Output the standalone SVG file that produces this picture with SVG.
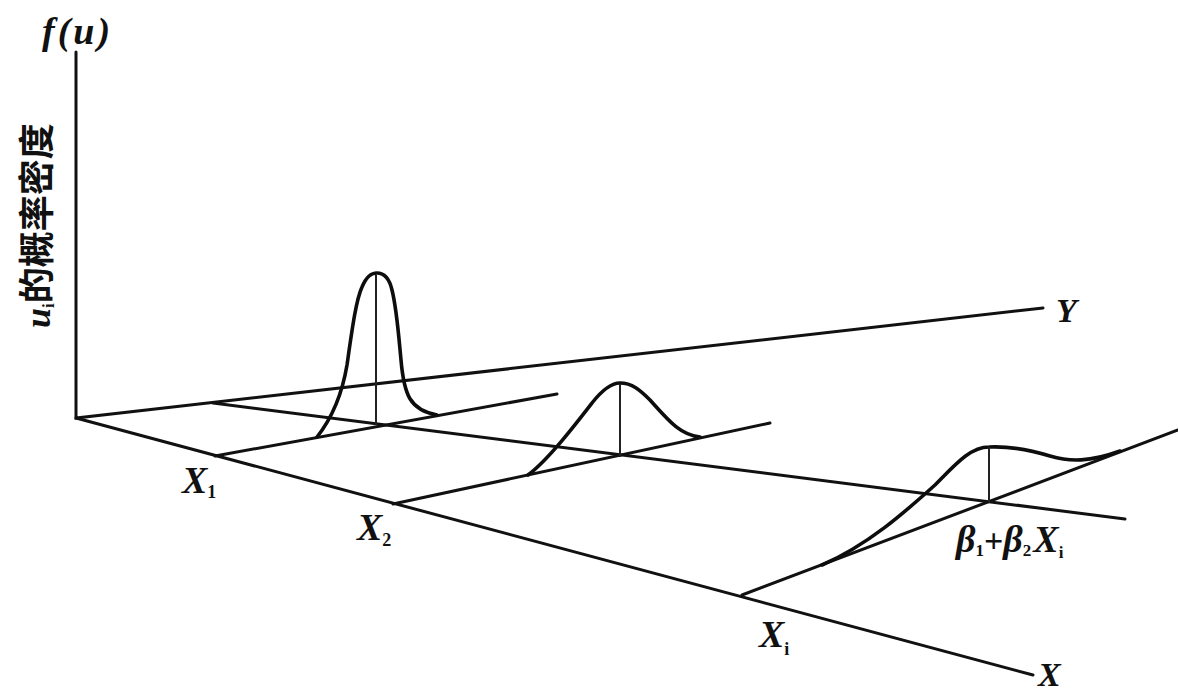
<svg xmlns="http://www.w3.org/2000/svg" width="1178" height="693" viewBox="0 0 1178 693">
<style>
.ax{stroke:#111;stroke-width:3;fill:none;stroke-linecap:round}
.cv{stroke:#0d0d0d;stroke-width:3.6;fill:none;stroke-linecap:round;stroke-linejoin:round}
.vl{stroke:#222;stroke-width:2;fill:none}
.lb{font-family:"Liberation Serif","DejaVu Serif",serif;font-style:italic;font-weight:bold;fill:#111}
.sb{font-family:"Liberation Serif","DejaVu Serif",serif;font-style:normal;font-weight:bold;fill:#111}
.cj{font-family:"Noto Sans CJK SC","Noto Sans CJK TC",sans-serif;font-weight:bold;fill:#111}
</style>
<rect width="1178" height="693" fill="#fff"/>
<g id="axes">
<path class="ax" d="M76,52 L76,418 L1043,308"/>
<path class="ax" d="M76,418 L1033,675"/>
</g>
<g id="connectors">
<path class="ax" d="M215,456 L557,394"/>
<path class="ax" d="M393,504 L770,423"/>
<path class="ax" d="M742,595 L1178,430"/>
<path class="ax" d="M213,403 L1125,519"/>
</g>
<g id="curve1">
<path class="cv" d="M317,437 C332,418 342,395 347,365 C352,330 356,300 362,287 C367,275 372,273 377,273 C383,273 389,277 392,290 C397,310 399,340 401,360 C404,395 410,410 437,415"/>
<path class="vl" d="M376,275 L376,425"/>
</g>
<g id="curve2">
<path class="cv" d="M528,475 C548,460 575,425 592,403 C603,389 612,383 620,383 C632,383 640,390 650,400 C668,420 680,435 700,437"/>
<path class="vl" d="M620,384 L620,457"/>
</g>
<g id="curve3">
<path class="cv" d="M822,565 C868,545 905,512 935,485 C955,465 970,447 989,447 C1010,446 1030,450 1050,456 C1070,462 1090,462 1120,451"/>
<path class="vl" d="M989,447 L989,502"/>
</g>
<g id="labels">
<text class="lb" x="42" y="44" font-size="38" letter-spacing="3">f(u)</text>
<text transform="translate(50,328) rotate(-90)" font-size="36"><tspan class="lb">u</tspan><tspan class="sb" font-size="17" dy="4">i</tspan><tspan class="cj" dy="-4">的概率密度</tspan></text>
<text class="lb" x="182" y="493" font-size="38">X<tspan class="sb" font-size="18" dy="5">1</tspan></text>
<text class="lb" x="357" y="540" font-size="38">X<tspan class="sb" font-size="18" dy="6">2</tspan></text>
<text class="lb" x="759" y="647" font-size="38">X<tspan class="sb" font-size="18" dy="8">i</tspan></text>
<text class="lb" x="1038" y="686" font-size="34">X</text>
<text class="lb" x="1056" y="322" font-size="34">Y</text>
<text class="lb" x="956" y="552" font-size="38">β<tspan class="sb" font-size="17" dy="4">1</tspan><tspan class="sb" font-size="34" dy="-4">+</tspan>β<tspan class="sb" font-size="17" dy="4">2</tspan><tspan dy="-4" dx="2" font-size="38">X</tspan><tspan class="sb" font-size="17" dy="6">i</tspan></text>
</g>
</svg>
